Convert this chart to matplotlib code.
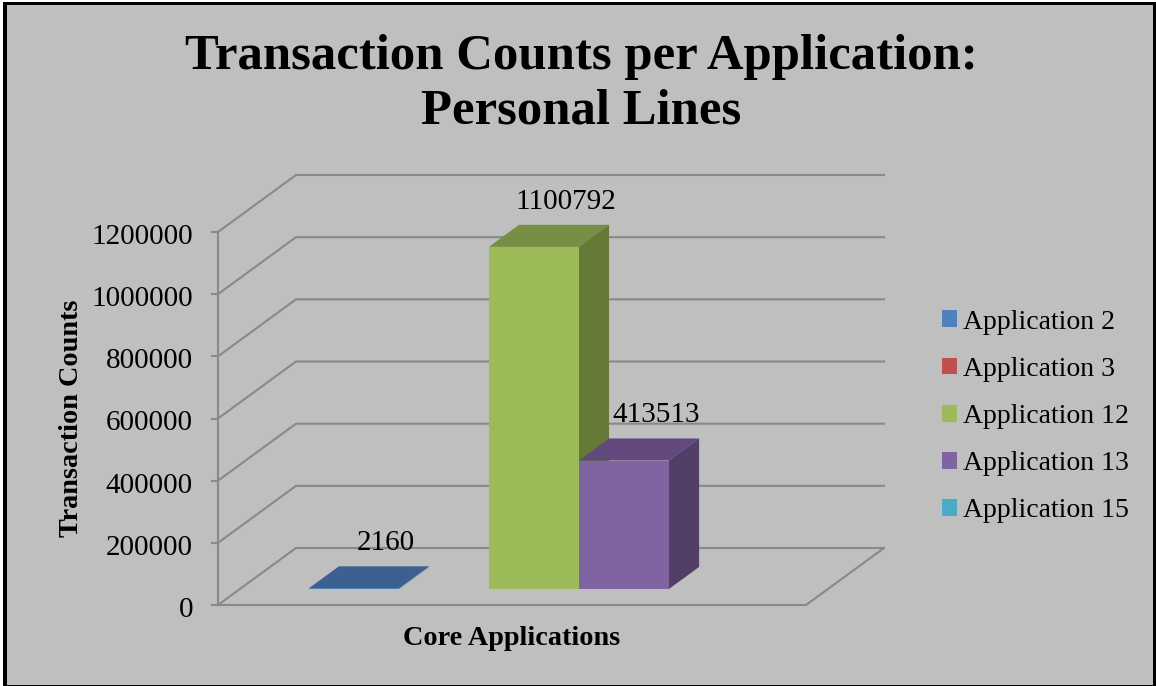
import matplotlib
matplotlib.use("Agg")
import matplotlib.pyplot as plt
from matplotlib.patches import Patch, Polygon, Rectangle
from matplotlib.transforms import ScaledTranslation

plt.rcParams['font.family'] = ['Liberation Serif', 'DejaVu Serif']

apps = ['Application 2', 'Application 3', 'Application 12', 'Application 13', 'Application 15']
counts = [2160, None, 1100792, 413513, None]
yticks = [0, 200000, 400000, 600000, 800000, 1000000, 1200000]
colors = ['#4f81bd', '#c0504d', '#9bbb59', '#8064a2', '#4bacc6']
side_colors = ['#3c6191', '#943c3a', '#667a38', '#533e68', '#38859a']
top_colors = ['#3c6191', '#a84441', '#778f45', '#624a7e', '#3f95ac']

W, H = 1156, 686
BG = '#bfbfbf'
GRID = '#898989'
LW = 1.5
# front plane of the plot in pixels
LEFT, RIGHT, BOTTOM, TOP = 218, 806, 605, 232
DEPTH_X, DEPTH_Y = 78, 57
GAP = 0.765
N_UNITS = 2 * GAP + len(apps)
YMAX = 1200000

fig = plt.figure(figsize=(W / 100, H / 100), dpi=100, facecolor='white')


def rect(x0, y0, x1, y1, color):
    fig.add_artist(Rectangle((x0 / W, 1 - y1 / H), (x1 - x0) / W, (y1 - y0) / H,
                             transform=fig.transFigure, facecolor=color, edgecolor='none',
                             zorder=-5))


# frame of the pasted picture
rect(3, 2, W, H, 'black')
rect(7, 4.5, 1153, H - 1, BG)

ax = fig.add_axes([LEFT / W, 1 - BOTTOM / H, (RIGHT - LEFT) / W, (BOTTOM - TOP) / H])
ax.patch.set_visible(False)
ax.set_xlim(0, N_UNITS)
ax.set_ylim(0, YMAX)

dx_unit = DEPTH_X / ((RIGHT - LEFT) / N_UNITS)
dy_unit = DEPTH_Y * YMAX / (BOTTOM - TOP)


def project(x, y, d):
    # d = 0 is the front plane, d = 1 the back wall
    return x + d * dx_unit, y + d * dy_unit


# walls
for t in yticks:
    xs, ys = zip(project(0, t, 0), project(0, t, 1), project(N_UNITS, t, 1))
    ax.plot(xs, ys, color=GRID, lw=LW, clip_on=False, solid_joinstyle='miter', zorder=1)
xs, ys = zip(project(0, 0, 0), project(N_UNITS, 0, 0), project(N_UNITS, 0, 1))
ax.plot(xs, ys, color=GRID, lw=LW, clip_on=False, zorder=1)

# bars
D0, D1 = 0.28, 0.667
for i, v in enumerate(counts):
    if v is None:
        continue
    x0 = GAP + i
    x1 = x0 + 1
    top = [project(x0, v, D0), project(x1, v, D0), project(x1, v, D1), project(x0, v, D1)]
    ax.add_patch(Polygon(top, closed=True, facecolor=top_colors[i], edgecolor='none',
                         clip_on=False, zorder=2 + i))
    side = [project(x1, 0, D0), project(x1, v, D0), project(x1, v, D1), project(x1, 0, D1)]
    ax.add_patch(Polygon(side, closed=True, facecolor=side_colors[i], edgecolor='none',
                         clip_on=False, zorder=2 + i))
    front = [project(x0, 0, D0), project(x1, 0, D0), project(x1, v, D0), project(x0, v, D0)]
    ax.add_patch(Polygon(front, closed=True, facecolor=colors[i], edgecolor='none',
                         clip_on=False, zorder=2 + i))
    lx, ly = project(x0 + 0.5, v, D1)
    ax.annotate(str(v), (lx, ly), xytext=(2, 10), textcoords='offset pixels', ha='center',
                va='bottom', fontsize=21, color='black', annotation_clip=False, zorder=10)

for s in ['top', 'right']:
    ax.spines[s].set_visible(False)
ax.spines['bottom'].set_visible(False)
ax.spines['left'].set_color(GRID)
ax.spines['left'].set_linewidth(LW)
ax.set_xticks([])
ax.set_yticks(yticks)
ax.set_yticklabels([str(t) for t in yticks])
ax.tick_params(axis='y', labelsize=21, color=GRID, width=LW, length=5, pad=13)
# tick labels sit a little below their gridlines in the original
shift = ScaledTranslation(0, -2 / 100, fig.dpi_scale_trans)
for lab in ax.get_yticklabels():
    lab.set_transform(lab.get_transform() + shift)
ax.set_ylabel('Transaction Counts', fontsize=20.3, fontweight='bold', labelpad=5)
ax.set_xlabel('Core Applications', fontsize=20.3, fontweight='bold')
ax.xaxis.set_label_coords(0.5, -0.055)

fig.text(581 / W, 1 - 84 / H, 'Transaction Counts per Application:\nPersonal Lines',
         ha='center', va='center', fontsize=36.5, fontweight='bold', linespacing=1.24)

handles = [Patch(facecolor=c, edgecolor='none') for c in colors]
fig.legend(handles, apps, loc='center left', bbox_to_anchor=(942 / W, 1 - 416.5 / H), frameon=False,
           fontsize=20, handlelength=0.55, handleheight=0.55, handletextpad=0.2,
           labelspacing=0.8, borderpad=0, borderaxespad=0)

fig.savefig('out.png', dpi=100, facecolor=fig.get_facecolor())
